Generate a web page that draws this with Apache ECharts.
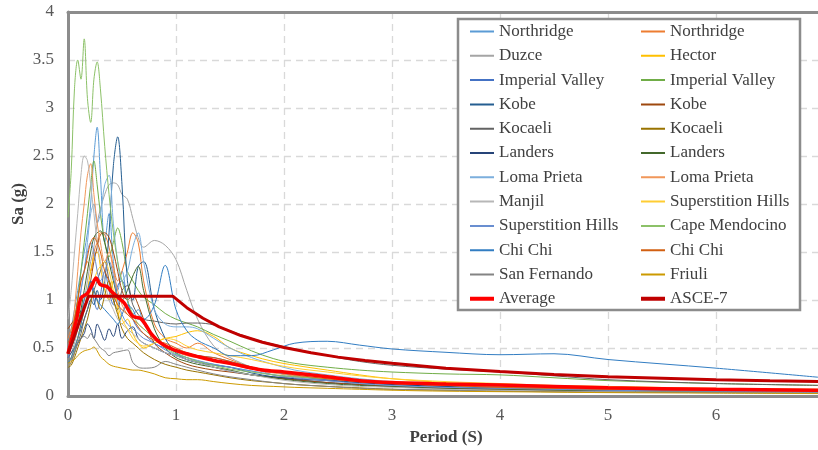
<!DOCTYPE html>
<html><head><meta charset="utf-8">
<script src="https://cdn.jsdelivr.net/npm/echarts@6/dist/echarts.min.js"></script>
<style>html,body{margin:0;padding:0;background:#fff}#c{width:818px;height:450px}</style>
</head><body><div id="c"></div>
<script>
// Periods (s) shared by all record spectra
const periods = [0,0.03,0.06,0.09,0.12,0.15,0.18,0.21,0.24,0.27,0.3,0.34,0.38,0.42,0.46,0.5,0.55,0.6,0.65,0.7,0.8,0.9,1.0,1.1,1.2,1.35,1.5,1.7,1.9,2.1,2.4,2.7,3.0,3.5,4.0,4.5,5.0,6.0,7.0];

const recordNames = ['Northridge','Northridge','Duzce','Hector','Imperial Valley','Imperial Valley','Kobe','Kobe','Kocaeli','Kocaeli','Landers','Landers','Loma Prieta','Loma Prieta','Manjil','Superstition Hills','Superstition Hills','Cape Mendocino','Chi Chi','Chi Chi','San Fernando','Friuli'];
const recordColors = ['#5B9BD5','#ED7D31','#A5A5A5','#FFC000','#4472C4','#70AD47','#255E91','#9E480E','#636363','#997300','#264478','#43682B','#7CAFDD','#F1975A','#B7B7B7','#FFCD33','#698ED0','#8CC168','#327DC2','#D26012','#848484','#CC9A00'];

const northridge1 = [0.55,0.7,0.9,1.1,1.3,1.5,1.7,2.0,2.5,2.8,2.3,1.6,1.9,1.4,1.1,1.3,1.0,0.85,0.9,0.75,0.6,0.52,0.45,0.4,0.36,0.33,0.3,0.26,0.22,0.2,0.17,0.15,0.13,0.11,0.09,0.08,0.07,0.06,0.05];
const northridge2 = [0.6,0.7,0.8,1.0,1.2,1.3,1.4,1.3,1.5,1.6,1.7,1.68,1.55,1.35,1.2,1.3,1.5,1.7,1.6,1.2,0.75,0.6,0.55,0.5,0.55,0.45,0.38,0.3,0.25,0.21,0.17,0.14,0.12,0.1,0.085,0.075,0.065,0.055,0.045];
const duzce = [0.4,0.45,0.55,0.7,0.85,1.0,1.2,1.4,1.55,1.8,1.95,2.1,2.2,2.22,2.2,2.1,2.05,1.85,1.65,1.55,1.62,1.57,1.42,1.1,0.8,0.52,0.4,0.3,0.22,0.18,0.14,0.12,0.1,0.08,0.065,0.055,0.05,0.04,0.035];
const hector = [0.3,0.35,0.45,0.6,0.75,0.9,1.1,1.3,1.45,1.5,1.35,1.1,1.0,1.2,0.9,0.75,0.8,0.65,0.55,0.5,0.55,0.6,0.62,0.66,0.68,0.62,0.5,0.42,0.36,0.32,0.27,0.22,0.18,0.14,0.12,0.1,0.09,0.07,0.06];
const imperial1 = [0.45,0.5,0.6,0.7,0.85,1.0,1.1,1.2,1.0,0.9,1.05,1.3,1.1,0.95,1.15,1.2,1.0,0.8,0.7,0.65,0.55,0.5,0.48,0.45,0.42,0.4,0.36,0.3,0.25,0.21,0.17,0.14,0.12,0.1,0.08,0.07,0.06,0.05,0.04];
const imperial2 = [0.5,0.6,0.8,1.0,1.3,1.6,1.9,2.2,2.45,2.2,1.9,1.6,1.45,1.6,1.75,1.6,1.3,1.2,1.1,1.03,0.95,0.86,0.8,0.76,0.72,0.64,0.57,0.47,0.39,0.34,0.3,0.27,0.25,0.23,0.22,0.19,0.16,0.13,0.11];
const kobe1 = [0.35,0.4,0.5,0.6,0.7,0.8,0.9,1.0,0.95,1.1,1.0,1.2,1.7,2.4,2.7,2.2,1.2,1.0,1.35,1.4,0.9,0.6,0.45,0.38,0.35,0.32,0.3,0.24,0.2,0.17,0.14,0.12,0.1,0.08,0.07,0.06,0.05,0.04,0.035];
const kobe2 = [0.7,0.75,0.8,0.9,0.85,0.95,1.0,1.2,1.4,1.55,1.68,1.7,1.65,1.5,1.3,1.1,1.0,1.05,0.95,0.8,0.55,0.45,0.38,0.33,0.3,0.27,0.25,0.22,0.19,0.17,0.14,0.12,0.1,0.08,0.07,0.06,0.05,0.04,0.03];
const kocaeli1 = [0.35,0.38,0.45,0.55,0.65,0.8,0.9,1.0,1.1,1.2,1.3,1.4,1.2,1.0,0.9,1.1,1.15,0.95,0.85,0.8,0.78,0.76,0.75,0.76,0.76,0.74,0.68,0.6,0.54,0.49,0.42,0.36,0.32,0.28,0.25,0.21,0.17,0.13,0.11];
const kocaeli2 = [0.3,0.32,0.4,0.5,0.6,0.7,0.8,0.95,1.1,1.0,0.9,1.05,1.2,1.0,0.85,0.7,0.6,0.55,0.5,0.45,0.38,0.33,0.3,0.27,0.25,0.22,0.19,0.16,0.14,0.12,0.1,0.085,0.07,0.06,0.05,0.045,0.04,0.035,0.03];
const landers1 = [0.4,0.45,0.5,0.55,0.6,0.65,0.75,0.7,0.6,0.75,0.68,0.58,0.7,0.62,0.75,0.6,0.68,0.72,0.6,0.55,0.5,0.45,0.42,0.38,0.35,0.3,0.26,0.22,0.2,0.18,0.16,0.14,0.12,0.1,0.09,0.08,0.07,0.06,0.05];
const landers2 = [0.45,0.5,0.6,0.75,0.9,1.1,1.3,1.5,1.65,1.7,1.72,1.6,1.4,1.2,1.05,1.0,1.1,1.25,1.35,1.1,0.7,0.5,0.4,0.36,0.33,0.3,0.27,0.22,0.19,0.16,0.13,0.11,0.1,0.08,0.07,0.06,0.05,0.045,0.04];
const loma1 = [0.5,0.6,0.75,0.9,1.1,1.3,1.6,1.9,2.0,1.8,1.9,2.2,2.3,1.8,1.4,1.2,1.3,1.55,1.7,1.4,0.9,0.75,0.72,0.72,0.7,0.6,0.5,0.4,0.33,0.27,0.22,0.18,0.15,0.12,0.1,0.09,0.08,0.06,0.05];
const loma2 = [0.45,0.6,0.9,1.3,1.7,2.0,2.3,2.42,2.1,1.8,1.6,1.4,1.5,1.3,1.1,0.95,0.85,0.8,0.75,0.7,0.6,0.52,0.46,0.42,0.4,0.37,0.33,0.28,0.24,0.21,0.18,0.15,0.13,0.11,0.09,0.08,0.07,0.06,0.05];
const manjil = [0.8,1.1,1.5,1.9,2.3,2.5,2.45,2.2,1.9,1.6,1.4,1.2,1.0,0.9,0.8,0.75,0.7,0.65,0.6,0.55,0.5,0.45,0.42,0.38,0.35,0.3,0.26,0.22,0.18,0.15,0.12,0.1,0.09,0.07,0.06,0.05,0.045,0.04,0.035];
const superstition1 = [0.35,0.4,0.5,0.6,0.75,0.9,1.0,1.1,1.2,1.3,1.35,1.4,1.3,1.1,0.95,0.8,0.7,0.6,0.55,0.52,0.55,0.6,0.58,0.52,0.48,0.45,0.42,0.38,0.33,0.29,0.25,0.21,0.18,0.15,0.13,0.11,0.1,0.08,0.07];
const superstition2 = [0.4,0.5,0.65,0.85,1.1,1.3,1.5,1.6,1.5,1.3,1.2,1.3,1.4,1.25,1.0,0.85,0.75,0.7,0.65,0.6,0.55,0.48,0.43,0.4,0.37,0.33,0.3,0.26,0.22,0.19,0.16,0.13,0.11,0.09,0.08,0.07,0.06,0.05,0.04];
const capeMendocino = [1.86,2.35,3.2,3.5,3.3,3.72,3.1,2.85,3.3,3.48,3.2,2.6,2.1,1.7,1.4,1.2,1.0,0.85,0.75,0.7,0.6,0.5,0.44,0.4,0.36,0.32,0.28,0.25,0.22,0.2,0.18,0.16,0.14,0.12,0.1,0.09,0.08,0.07,0.06];
const chichi1 = [0.35,0.4,0.5,0.6,0.75,0.9,1.05,1.2,1.1,1.0,0.95,0.9,0.85,0.8,0.75,0.85,0.95,0.9,0.8,0.8,0.95,1.36,0.9,0.68,0.58,0.5,0.42,0.42,0.48,0.55,0.57,0.53,0.49,0.455,0.43,0.44,0.38,0.29,0.19];
const chichi2 = [0.55,0.65,0.8,1.0,1.2,1.3,1.45,1.6,1.65,1.6,1.5,1.3,1.2,1.05,0.95,0.9,0.85,0.8,0.72,0.65,0.58,0.55,0.5,0.45,0.42,0.4,0.36,0.3,0.26,0.22,0.18,0.15,0.13,0.11,0.09,0.08,0.07,0.06,0.05];
const sanFernando = [0.3,0.35,0.45,0.55,0.6,0.62,0.6,0.65,0.6,0.55,0.5,0.47,0.42,0.45,0.46,0.47,0.48,0.35,0.3,0.29,0.3,0.36,0.33,0.3,0.27,0.23,0.2,0.17,0.14,0.12,0.1,0.08,0.07,0.06,0.05,0.045,0.04,0.035,0.03];
const friuli = [0.34,0.36,0.38,0.42,0.45,0.47,0.48,0.49,0.51,0.47,0.41,0.37,0.33,0.31,0.3,0.29,0.28,0.27,0.27,0.26,0.23,0.19,0.18,0.17,0.17,0.15,0.13,0.11,0.1,0.09,0.08,0.07,0.06,0.05,0.045,0.04,0.035,0.03,0.025];

const records = [northridge1,northridge2,duzce,hector,imperial1,imperial2,kobe1,kobe2,kocaeli1,kocaeli2,landers1,landers2,loma1,loma2,manjil,superstition1,superstition2,capeMendocino,chichi1,chichi2,sanFernando,friuli];

// Average spectrum
const avgPeriods = [0,0.04,0.08,0.12,0.18,0.22,0.26,0.3,0.36,0.41,0.46,0.52,0.6,0.67,0.72,0.77,0.86,0.98,1.1,1.2,1.35,1.5,1.8,2.0,2.4,2.7,3.0,3.5,4.0,5.0,6.0,7.0];
const avgValues = [0.44,0.62,0.8,1.02,1.07,1.15,1.23,1.16,1.14,1.08,1.03,0.97,0.83,0.81,0.74,0.65,0.55,0.48,0.44,0.41,0.37,0.34,0.27,0.25,0.2,0.16,0.14,0.125,0.115,0.085,0.07,0.06];

// ASCE-7 design spectrum
const ascePeriods = [0,0.19,0.97,1.1,1.25,1.4,1.6,1.8,2.0,2.25,2.5,2.75,3.0,3.5,4.0,4.5,5.0,5.5,6.0,6.5,7.0];
const asceValues = [0.44,1.04,1.04,0.92,0.81,0.72,0.63,0.56,0.505,0.45,0.405,0.37,0.34,0.29,0.255,0.225,0.2,0.185,0.17,0.158,0.15];

const xTicks = ['0','1','2','3','4','5','6','7'];

const FONT = '"Liberation Serif","Times New Roman",serif';
const AXIS_GRAY = '#8C8C8C';
const series = [];
const uniqueNames = [];
records.forEach((vals, i) => {
  const nm = recordNames[i] + '|' + i;
  uniqueNames.push(nm);
  series.push({
    name: nm, type: 'line', smooth: 0.35, symbol: 'none', showSymbol: false,
    lineStyle: {width: 1, color: recordColors[i]}, itemStyle: {color: recordColors[i]},
    data: periods.map((p, k) => [p, vals[k]])
  });
});
uniqueNames.push('Average|a', 'ASCE-7|b');
series.push({
  name: 'Average|a', type: 'line', smooth: 0.3, symbol: 'none', showSymbol: false,
  lineStyle: {width: 3.5, color: '#FF0000'}, itemStyle: {color: '#FF0000'},
  data: avgPeriods.map((p, k) => [p, avgValues[k]])
});
series.push({
  name: 'ASCE-7|b', type: 'line', smooth: false, symbol: 'none', showSymbol: false,
  lineStyle: {width: 3, color: '#C00000'}, itemStyle: {color: '#C00000'},
  data: ascePeriods.map((p, k) => [p, asceValues[k]])
});

// legend swatch: a horizontal bar centred in a 24x14 box (corner dots fix the box)
function swatch(h) {
  const y0 = 7 - h / 2, y1 = 7 + h / 2;
  return 'path://M0,0L0.01,0L0.01,0.01L0,0.01Z M0,' + y0 + 'L24,' + y0 + 'L24,' + y1 + 'L0,' + y1 + 'Z M23.99,13.99L24,13.99L24,14L23.99,14Z';
}
const legendData = uniqueNames.map((n, i) => ({name: n, icon: swatch(i >= 22 ? 4 : 2)}));
const col1 = legendData.filter((_, i) => i % 2 === 0);
const col2 = legendData.filter((_, i) => i % 2 === 1);
const legendBase = {
  orient: 'vertical', top: 23, padding: 0, itemWidth: 24, itemHeight: 14, itemGap: 7.3,
  textStyle: {fontFamily: FONT, fontSize: 17, color: '#404040'},
  formatter: n => n.split('|')[0], selectedMode: false
};

const chart = echarts.init(document.getElementById('c'), null, {renderer: 'canvas'});
chart.setOption({
  animation: false,
  backgroundColor: '#fff',
  grid: {left: 68, right: -6, top: 12, bottom: 54, outerBoundsMode: 'none', containLabel: false},
  xAxis: [{
    type: 'value', min: 0, max: 7, interval: 1, position: 'bottom',
    name: 'Period (S)', nameLocation: 'middle', nameGap: 33, nameMoveOverlap: false,
    nameTextStyle: {fontFamily: FONT, fontSize: 17, fontWeight: 'bold', color: '#404040'},
    axisLine: {show: true, lineStyle: {color: AXIS_GRAY, width: 3}}, axisTick: {show: false},
    axisLabel: {fontFamily: FONT, fontSize: 17, color: '#595959', margin: 11, formatter: v => xTicks[Math.round(v)]},
    splitLine: {show: true, lineStyle: {color: '#D9D9D9', width: 1.3, type: [7, 5]}}
  }, {
    type: 'value', min: 0, max: 7, interval: 1, position: 'top',
    axisLine: {show: true, lineStyle: {color: AXIS_GRAY, width: 3}}, axisTick: {show: false},
    axisLabel: {show: false}, splitLine: {show: false}
  }],
  yAxis: {
    type: 'value', min: 0, max: 4, interval: 0.5,
    name: 'Sa (g)', nameLocation: 'middle', nameGap: 41, nameRotate: 90, nameMoveOverlap: false,
    nameTextStyle: {fontFamily: FONT, fontSize: 17, fontWeight: 'bold', color: '#404040'},
    axisLine: {show: true, lineStyle: {color: AXIS_GRAY, width: 3}}, axisTick: {show: false},
    axisLabel: {fontFamily: FONT, fontSize: 17, color: '#595959', margin: 14},
    splitLine: {show: true, lineStyle: {color: '#D9D9D9', width: 1.3, type: [7, 5]}}
  },
  graphic: [{
    type: 'rect', z: 50, shape: {x: 458, y: 19, width: 342, height: 291},
    style: {fill: '#fff', stroke: '#8C8C8C', lineWidth: 2.5}
  }],
  legend: [
    Object.assign({}, legendBase, {left: 470, data: col1, z: 60}),
    Object.assign({}, legendBase, {left: 641, data: col2, z: 60})
  ],
  series: series
});
</script></body></html>
